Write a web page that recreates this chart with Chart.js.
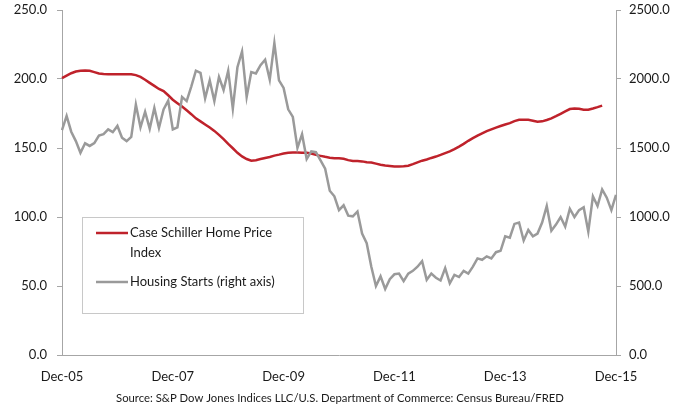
<!DOCTYPE html>
<html>
<head>
<meta charset="utf-8">
<title>Case Schiller vs Housing Starts</title>
<script src="https://cdn.jsdelivr.net/npm/chart.js@4.4.1/dist/chart.umd.min.js"></script>
<style>
  html, body { margin: 0; padding: 0; background: #fff; }
  #wrap { width: 692px; height: 408px; position: relative; }
</style>
</head>
<body>
<div id="wrap"><canvas id="chart"></canvas></div>
<script>
"use strict";

// ─── Data ─────────────────────────────────────────────────────────────────────

// Monthly, Dec-05 .. Dec-15
const startYear = 2005;
const startMonth = 11; // December
const monthCount = 121;
const tickLabels = ["Dec-05", "Dec-07", "Dec-09", "Dec-11", "Dec-13", "Dec-15"];
const tickEvery = 24;

// Case Schiller 20-city index (left axis), ends Oct-15
const caseSchiller = [
  200.7, 202.5, 204.2, 205.4, 206.0, 206.1, 205.9, 205.0, 204.0, 203.6,
  203.5, 203.5, 203.4, 203.4, 203.4, 203.4, 202.8, 201.5, 199.5, 197.2,
  195.0, 192.8, 191.2, 188.2, 185.0, 182.5, 180.0, 177.3, 174.5, 171.5,
  169.3, 167.0, 164.8, 162.4, 159.5, 156.4, 153.0, 149.8, 146.5, 143.9,
  142.0, 140.8, 141.2, 142.0, 142.8, 143.5, 144.5, 145.2, 146.0, 146.5,
  146.7, 146.7, 146.6, 146.6, 146.0, 145.0, 144.3, 143.6, 143.0, 142.6,
  142.6, 142.2, 141.2, 140.6, 140.6, 140.3, 139.7, 139.5, 138.7, 137.9,
  137.4, 137.0, 136.6, 136.6, 136.8, 137.2, 138.3, 139.6, 140.8, 141.7,
  142.8, 143.8, 145.0, 146.3, 147.5, 149.2, 151.0, 153.0, 155.2, 157.2,
  159.0, 160.6, 162.2, 163.5, 164.8, 165.9, 167.0, 168.0, 169.5, 170.4,
  170.4, 170.4, 169.8, 169.0, 169.3, 170.3, 171.5, 173.1, 174.8, 176.5,
  178.2, 178.6, 178.5, 177.8, 177.7, 178.6, 179.6, 180.7
];

// Housing starts, thousands (right axis)
const housingStarts = [
  1630, 1732, 1618, 1550, 1465, 1534, 1515, 1535, 1590, 1600,
  1635, 1615, 1660, 1575, 1550, 1580, 1815, 1650, 1763, 1640,
  1790, 1645, 1780, 1843, 1635, 1650, 1870, 1840, 1945, 2060,
  2045, 1860, 1990, 1840, 2015, 1920, 2060, 1785, 2085, 2200,
  1870, 2050, 2040, 2100, 2140, 1995, 2260, 1990, 1935, 1780,
  1725, 1500, 1600, 1420, 1475, 1470, 1410, 1350, 1190, 1150,
  1050, 1085, 1010, 1005, 1040, 880, 810, 640, 500, 570,
  478, 550, 585, 590, 535, 590, 610, 640, 680, 545,
  590, 560, 540, 630, 520, 580, 565, 610, 590, 640,
  700, 690, 715, 700, 745, 755, 860, 850, 950, 960,
  830, 906, 860, 880, 960, 1080, 900, 945, 1000, 930,
  1060, 1000, 1050, 1070, 894, 1150, 1080, 1200, 1140, 1050,
  1160
];

const sourceNote = "Source: S&P Dow Jones Indices LLC/U.S. Department of Commerce: Census Bureau/FRED";

// ─── Style ────────────────────────────────────────────────────────────────────

const FONT = "Lato, 'Open Sans', sans-serif";
const RED = "#bf222b";
const GREY = "#9a9a9a";
const AXIS = "#a6a6a6";
const TEXT = "#1a1a1a";

const monthNames = ["Jan","Feb","Mar","Apr","May","Jun","Jul","Aug","Sep","Oct","Nov","Dec"];
const labels = [];
for (let i = 0; i < monthCount; i++) {
  const m = (startMonth + i) % 12;
  const y = startYear + Math.floor((startMonth + i) / 12);
  labels.push(monthNames[m] + "-" + String(y).slice(2));
}

// Legend box drawn inside the plot, Excel style
const legendItems = [
  { lines: ["Case Schiller Home Price", "Index"], color: RED },
  { lines: ["Housing Starts (right axis)"], color: GREY },
];

const boxLegend = {
  id: "boxLegend",
  afterDatasetsDraw(chart) {
    const ctx = chart.ctx;
    const x0 = 82.5, y0 = 217.5, w = 221, h = 96;
    ctx.save();
    ctx.fillStyle = "#fff";
    ctx.fillRect(x0, y0, w, h);
    ctx.strokeStyle = "#c8c8c8";
    ctx.lineWidth = 1;
    ctx.strokeRect(x0, y0, w, h);
    ctx.font = "13px " + FONT;
    ctx.fillStyle = TEXT;
    ctx.textBaseline = "middle";
    let y = 233;
    legendItems.forEach((item) => {
      ctx.strokeStyle = item.color;
      ctx.lineWidth = 2.5;
      ctx.beginPath();
      ctx.moveTo(96, y);
      ctx.lineTo(128, y);
      ctx.stroke();
      item.lines.forEach((line, k) => {
        ctx.fillText(line, 130, y + k * 20);
      });
      y += item.lines.length * 20 + 9;
    });
    ctx.restore();
  },
};

const sourceText = {
  id: "sourceText",
  afterDraw(chart) {
    const ctx = chart.ctx;
    ctx.save();
    ctx.font = "11.3px " + FONT;
    ctx.fillStyle = TEXT;
    ctx.textBaseline = "middle";
    ctx.textAlign = "center";
    ctx.fillText(sourceNote, 340, 398);
    ctx.restore();
  },
};

// Value axes: fixed width, no extra label padding above/below the plot
function fixAxis(width) {
  return (s) => {
    s.width = width;
    s.paddingTop = 0;
    s.paddingBottom = 0;
  };
}

// ─── Chart ────────────────────────────────────────────────────────────────────

new Chart(document.getElementById("chart"), {
  type: "line",
  data: {
    labels: labels,
    datasets: [
      {
        label: "Housing Starts (right axis)",
        data: housingStarts,
        yAxisID: "y1",
        borderColor: GREY,
        borderWidth: 2.5,
        pointRadius: 0,
        tension: 0,
      },
      {
        label: "Case Schiller Home Price Index",
        data: caseSchiller,
        yAxisID: "y",
        borderColor: RED,
        borderWidth: 2.5,
        pointRadius: 0,
        tension: 0,
      },
    ],
  },
  options: {
    responsive: true,
    maintainAspectRatio: false,
    animation: false,
    layout: { padding: { top: 10, left: 0, right: 0, bottom: 0 } },
    plugins: { legend: { display: false }, tooltip: { enabled: false } },
    scales: {
      x: {
        offset: false,
        grid: { display: false, drawTicks: false },
        border: { display: true, color: AXIS, width: 1 },
        ticks: {
          autoSkip: false,
          maxRotation: 0,
          padding: 14,
          color: TEXT,
          font: { family: FONT, size: 13 },
          callback: (v, i) => (i % tickEvery === 0 ? tickLabels[i / tickEvery] : null),
        },
        afterFit: (s) => { s.height = 53; s.paddingLeft = 0; s.paddingRight = 0; },
      },
      y: {
        position: "left",
        min: 0, max: 250,
        ticks: { stepSize: 50, padding: 10, color: TEXT, font: { family: FONT, size: 13 }, callback: (v) => v.toFixed(1) },
        grid: { drawOnChartArea: false, drawTicks: true, tickLength: 5, color: AXIS },
        border: { display: true, color: AXIS, width: 1 },
        afterFit: fixAxis(62),
      },
      y1: {
        position: "right",
        min: 0, max: 2500,
        ticks: { stepSize: 500, padding: 8, color: TEXT, font: { family: FONT, size: 13 }, callback: (v) => v.toFixed(1) },
        grid: { drawOnChartArea: false, drawTicks: true, tickLength: 5, color: AXIS },
        border: { display: true, color: AXIS, width: 1 },
        afterFit: fixAxis(76),
      },
    },
  },
  plugins: [boxLegend, sourceText],
});
</script>
</body>
</html>
